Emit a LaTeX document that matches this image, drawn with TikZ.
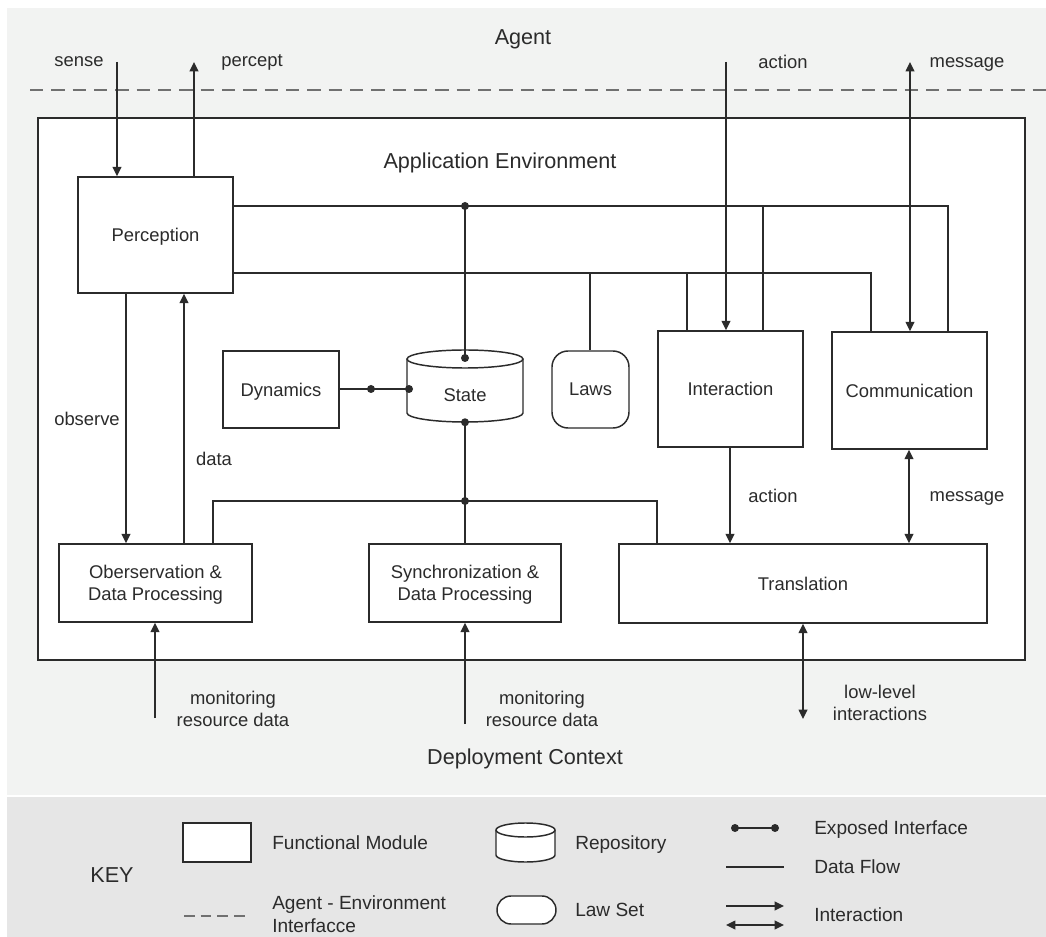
\documentclass[tikz,border=0pt]{standalone}
\usepackage{fontspec}
\setmainfont{Liberation Sans}
\usetikzlibrary{arrows.meta}
\definecolor{bgtop}{HTML}{F2F3F2}
\definecolor{bgkey}{HTML}{E6E6E6}
\definecolor{ink}{HTML}{2B2B2B}
\definecolor{dashc}{HTML}{707070}
\newcommand\lbl{\fontsize{13.8}{16.5}\selectfont}
\newcommand\ttlfont{\fontsize{16.2}{19}\selectfont}
\newcommand\keyfont{\fontsize{14.3}{17.3}\selectfont}
\newcommand\jdot[1]{\fill[ink] (#1) circle[radius=3pt];}
\tikzset{
  line/.style={draw=ink,line width=1.1pt},
  box/.style={draw=ink,line width=1.1pt,fill=white,inner sep=0pt,align=center,font=\lbl,text=ink,text depth=0pt},
  wh/.style 2 args={minimum width=#1*0.75pt,minimum height=#2*0.75pt},
  arr/.style={line,-{Triangle[length=7pt,width=6.5pt]}},
  dbl/.style={line,{Triangle[length=7pt,width=6.5pt]}-{Triangle[length=7pt,width=6.5pt]}},
  lab/.style={font=\lbl,text=ink,inner sep=0pt,align=center,text depth=0pt},
  ttl/.style={font=\ttlfont,text=ink,inner sep=0pt,text depth=0pt},
  klab/.style={font=\keyfont,text=ink,inner sep=0pt,anchor=west,align=left,text depth=0pt}
}
\begin{document}
\begin{tikzpicture}[x=0.75pt,y=-0.75pt]
\useasboundingbox (0,0) rectangle (1046,937);
\fill[bgtop] (7,8) rectangle (1046,795);
\fill[bgkey] (7,797) rectangle (1046,937);

% agent area
\node[ttl] (agent) at (523,37) {Agent};
\coordinate (dL) at (30,90);
\coordinate (dR) at (1046,90);
\draw[dashc,line width=1.3pt,dash pattern=on 10pt off 6pt] (dL) -- (dR);

% application environment
\node[box,wh={987}{542}] (appenv) at (531.5,389) {};
\node[ttl] (appttl) at (500,161) {Application Environment};

% modules
\node[box,wh={155}{116}] (perc) at (155.5,235) {Perception};
\node[box,wh={116}{77}] (dyn) at (281,389.5) {Dynamics};
\node[box,wh={77}{77},rounded corners=12pt] (laws) at (590.5,389.5) {Laws};
\node[box,wh={145}{116}] (inter) at (730.5,389) {Interaction};
\node[box,wh={155}{117}] (comm) at (909.5,390.5) {Communication};
\node[box,wh={193}{78}] (obs) at (155.5,583) {Oberservation \&\\Data Processing};
\node[box,wh={192}{78}] (sync) at (465,583) {Synchronization \&\\Data Processing};
\node[box,wh={368}{79}] (trans) at (803,583.5) {Translation};

% state repository
\draw[line,fill=white] (407,359) -- (407,413) arc[start angle=180,end angle=360,x radius=43.5pt,y radius=6.75pt] -- (523,359);
\draw[line,fill=white] (465,359) ellipse[x radius=43.5pt,y radius=6.75pt];
\node[lab,wh={116}{54}] (state) at (465,395) {State};

% agent interface connectors
\coordinate (senseT) at (117,62);
\draw[arr] (senseT) -- (senseT |- perc.north);
\coordinate (perceptT) at (194,62);
\draw[arr] (perceptT |- perc.north) -- (perceptT);
\coordinate (actT) at (726,62);
\draw[arr] (actT) -- (actT |- inter.north);
\coordinate (msgT) at (910,62);
\draw[dbl] (msgT) -- (msgT |- comm.north);

% upper bus
\coordinate (ub) at (465,206);
\coordinate (ubR) at (948,206);
\coordinate (ubI) at (763,206);
\draw[line] (perc.east |- ub) -- (ubR) -- (ubR |- comm.north);
\draw[line] (ubI) -- (ubI |- inter.north);
% lower bus
\coordinate (lbR) at (871,273);
\coordinate (lbL) at (590,273);
\coordinate (lbI) at (687,273);
\draw[line] (perc.east |- lbR) -- (lbR) -- (lbR |- comm.north);
\draw[line] (lbL) -- (lbL |- laws.north);
\draw[line] (lbI) -- (lbI |- inter.north);

% state links
\coordinate (stTop) at (465,358);
\draw[line] (ub) -- (stTop);
\coordinate (stL) at (409,389);
\coordinate (dynDot) at (371,389);
\draw[line] (dyn.east |- stL) -- (stL);
\coordinate (lj) at (465,501);
\draw[line] (state.south) -- (sync.north);
\coordinate (ljL) at (213,501);
\coordinate (ljR) at (657,501);
\draw[line] (ljL |- obs.north) -- (ljL) -- (ljR) -- (ljR |- trans.north);
\jdot{ub}\jdot{stTop}\jdot{stL}\jdot{dynDot}\jdot{state.south}\jdot{lj}

% inner flows
\coordinate (obsX) at (126,419);
\draw[arr] (perc.south -| obsX) -- (obs.north -| obsX);
\coordinate (dataX) at (184,459);
\draw[arr] (obs.north -| dataX) -- (perc.south -| dataX);
\coordinate (act2X) at (730,496);
\draw[arr] (inter.south -| act2X) -- (trans.north -| act2X);
\coordinate (msg2X) at (909,497);
\draw[dbl] (comm.south -| msg2X) -- (trans.north -| msg2X);

% deployment context flows
\coordinate (mon1) at (155,718);
\draw[arr] (mon1) -- (obs.south -| mon1);
\coordinate (mon2) at (465,724);
\draw[arr] (mon2) -- (sync.south);
\coordinate (ll) at (803,719);
\draw[dbl] (trans.south) -- (ll);

% labels
\node[lab] (lsense) at (79,62) {sense};
\node[lab] (lpercept) at (252,61) {percept};
\node[lab] (laction) at (783,62) {action};
\node[lab] (lmsg) at (967,63) {message};
\node[lab] (lobserve) at (87,419) {observe};
\node[lab] (ldata) at (214,459) {data};
\node[lab] (laction2) at (773,496) {action};
\node[lab] (lmsg2) at (967,497) {message};
\node[lab] (lmon1) at (233,709) {monitoring\\resource data};
\node[lab] (lmon2) at (542,709) {monitoring\\resource data};
\node[lab] (lll) at (880,703) {low-level\\interactions};
\node[ttl] (deploy) at (525,757) {Deployment Context};

% key
\node[ttl] (key) at (112,875) {KEY};
\node[box,wh={68}{39}] (kfm) at (217,842.5) {};
\node[klab] (kfml) at (272,843) {Functional Module};
\coordinate (kdL) at (184,916);
\coordinate (kdR) at (247,916);
\draw[dashc,line width=1.3pt,dash pattern=on 8pt off 4.5pt] (kdL) -- (kdR);
\node[klab] (kdl) at (272,914) {Agent - Environment\\Interfacce};
\draw[line,fill=white] (496,830) -- (496,855) arc[start angle=180,end angle=360,x radius=22.125pt,y radius=5.25pt] -- (555,830);
\draw[line,fill=white] (525.5,830) ellipse[x radius=22.125pt,y radius=5.25pt];
\node[klab] (krl) at (575,843) {Repository};
\node[box,wh={59}{28},rounded corners=10.5pt] (klaw) at (526.5,910) {};
\node[klab] (kll) at (575,910) {Law Set};
\coordinate (ke1) at (735,828);
\coordinate (ke2) at (775,828);
\draw[line] (ke1) -- (ke2);
\jdot{ke1}\jdot{ke2}
\node[klab] (kel) at (814,828) {Exposed Interface};
\coordinate (kf1) at (726,867);
\coordinate (kf2) at (784,867);
\draw[line] (kf1) -- (kf2);
\node[klab] (kfl) at (814,867) {Data Flow};
\coordinate (ki1) at (726,906);
\coordinate (ki2) at (784,906);
\draw[arr] (ki1) -- (ki2);
\coordinate (kj1) at (726,925);
\coordinate (kj2) at (784,925);
\draw[dbl] (kj1) -- (kj2);
\node[klab] (kil) at (814,915) {Interaction};
\end{tikzpicture}
\end{document}
